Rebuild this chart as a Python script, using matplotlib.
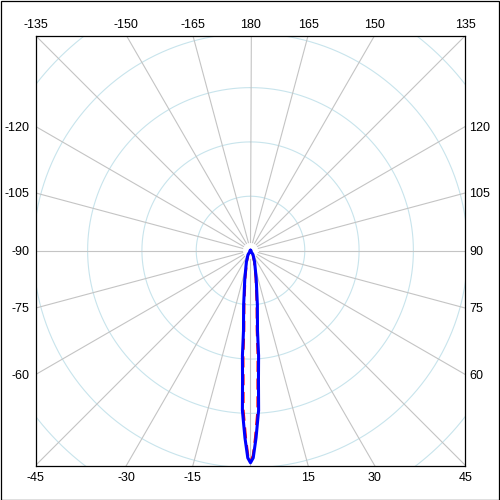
import numpy as np
import matplotlib.pyplot as plt
from matplotlib.patches import Rectangle

# patron de radiacion (dB) vs angulo (grados), 0 hacia abajo
ang_azul = [-40, -31, -20, -11.6, -7.2, -5.0, -4.4, -3.5, -2.9, -1.7, -0.75, 0,
            0.75, 1.7, 2.9, 3.5, 4.4, 5.0, 7.2, 11.6, 20, 31, 40]
db_azul = [-40, -39.1, -37.8, -34.8, -29.9, -25.2, -20.6, -16, -10.5, -5.5, -1.8, -0.9,
           -1.8, -5.5, -10.5, -16, -20.6, -25.2, -29.9, -34.8, -37.8, -39.1, -40]

ang_rojo = [-36, -28, -18, -10.5, -6.5, -4.5, -3.9, -3.1, -2.5, -1.4, -0.65, 0,
            0.65, 1.4, 2.5, 3.1, 3.9, 4.5, 6.5, 10.5, 18, 28, 36]
db_rojo = [-40, -39.1, -37.8, -34.8, -29.9, -25.2, -20.6, -16, -10.5, -5.5, -2.2, -1.2,
           -2.2, -5.5, -10.5, -16, -20.6, -25.2, -29.9, -34.8, -37.8, -39.1, -40]

# circulos de la rejilla (dB) y angulos de las lineas radiales
anillos_db = [-30, -20, -10, 0, 10]
radiales = np.arange(-165, 181, 15)

piso_db = -40
lim = 39.6       # medio ancho del cuadro en unidades de dB
r_ini = 1.5      # las radiales empiezan un poco fuera del centro


def a_xy(ang, db):
    t = np.radians(np.asarray(ang, dtype=float))
    r = np.asarray(db, dtype=float) - piso_db
    return r * np.sin(t), -r * np.cos(t)


fig = plt.figure(figsize=(5, 5), dpi=100)
ax = fig.add_axes([35.5 / 500, 34.5 / 500, 430 / 500, 430 / 500])
ax.set_xlim(-lim, lim)
ax.set_ylim(-lim, lim)
ax.set_xticks([])
ax.set_yticks([])
for s in ax.spines.values():
    s.set_linewidth(0.9)

# circulos
th = np.linspace(-180, 180, 721)
for a in anillos_db:
    x, y = a_xy(th, np.full_like(th, a))
    ax.plot(x, y, color='#c8e4ec', lw=0.8, zorder=1)

# radiales
for a in radiales:
    x, y = a_xy([a, a], [piso_db + r_ini, piso_db + 80])
    ax.plot(x, y, color='#c4c4c4', lw=0.8, zorder=1)

# curvas
x, y = a_xy(ang_rojo, db_rojo)
ax.plot(x, y, color='red', lw=1.6, ls=(0, (5, 3)), zorder=3)
x, y = a_xy(ang_azul, db_azul)
ax.plot(x, y, color='blue', lw=2.2, zorder=4)

# etiquetas en los bordes del cuadro
for a in radiales:
    if a == 0:
        continue
    s, c = np.sin(np.radians(a)), -np.cos(np.radians(a))
    t = lim / max(abs(s), abs(c))
    px, py = t * s, t * c
    if abs(c) >= abs(s) - 1e-9:
        if py > 0:
            off, ha, va = (0, 7.6), 'center', 'center'
        else:
            off, ha, va = (0, -9.2), 'center', 'center'
    else:
        if px < 0:
            off, ha, va = (-4.3, -1), 'right', 'center'
        else:
            off, ha, va = (2.9, -1), 'left', 'center'
    ax.annotate('%d' % a, (px, py), xytext=off, textcoords='offset points',
                ha=ha, va=va, fontsize=9, family='Liberation Sans',
                annotation_clip=False)

# marco exterior
fig.patches.append(Rectangle((0.5 / 500, 0.5 / 500), 498.5 / 500, 498.5 / 500,
                             transform=fig.transFigure, fill=False,
                             edgecolor='black', lw=0.9))

fig.savefig('out.png', dpi=100)
